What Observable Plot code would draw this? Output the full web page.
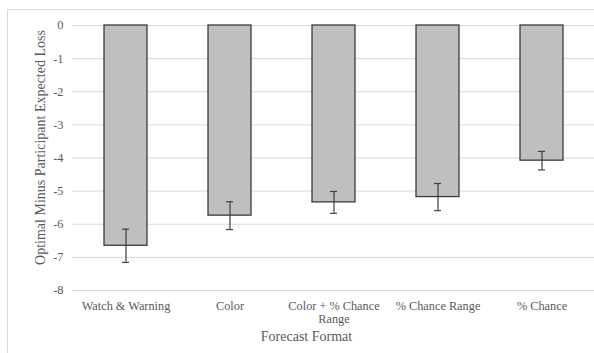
<!DOCTYPE html>
<html>
<head>
<meta charset="utf-8">
<script src="https://cdn.jsdelivr.net/npm/d3@7"></script>
<script src="https://cdn.jsdelivr.net/npm/@observablehq/plot@0.6"></script>
<style>
  html, body { margin: 0; padding: 0; background: #fff; overflow: hidden; }
  #wrap { position: relative; width: 594px; height: 353px; overflow: hidden; }
  #frame { position: absolute; left: 7px; top: 9px; width: 700px; height: 500px; border-left: 1px solid #d9d9d9; border-top: 1px solid #d9d9d9; }
  #chart { position: absolute; left: 0; top: 0; }
</style>
</head>
<body>
<div id="wrap"><div id="frame"></div><div id="chart"></div></div>
<script>
const categories = ["Watch & Warning", "Color", "Color + % Chance Range", "% Chance Range", "% Chance"];
const tickLabels = ["Watch & Warning", "Color", "Color + % Chance\nRange", "% Chance Range", "% Chance"];
const means = [-6.65, -5.74, -5.34, -5.18, -4.08];
const errors = [0.50, 0.42, 0.33, 0.41, 0.28];
const yTicks = [0, -1, -2, -3, -4, -5, -6, -7, -8];
const yTitle = "Optimal Minus Participant Expected Loss";
const xTitle = "Forecast Format";

const data = categories.map((c, i) => ({cat: c, mean: means[i], lo: means[i] - errors[i], hi: means[i] + errors[i]}));
const labelOf = new Map(categories.map((c, i) => [c, tickLabels[i]]));

const font = "'Liberation Serif', 'Times New Roman', serif";
const textColor = "#595959";

const chart = Plot.plot({
  width: 594,
  height: 353,
  marginLeft: 72,
  marginRight: 0,
  marginTop: 25,
  marginBottom: 63,
  style: {fontFamily: font, fontSize: "12.3px", color: textColor, background: "transparent"},
  x: {domain: categories, paddingInner: 0.59, paddingOuter: 0.295},
  y: {domain: [-8, 0]},
  marks: [
    Plot.gridY(yTicks, {stroke: "#d9d9d9", strokeOpacity: 1, strokeWidth: 1}),
    Plot.barY(data, {x: "cat", y1: 0, y2: "mean", fill: "#bfbfbf", stroke: "#3a3a3a", strokeWidth: 1.3}),
    Plot.ruleX(data, {x: "cat", y1: "lo", y2: "hi", stroke: "#3f3f3f", strokeWidth: 1.2}),
    Plot.tickY(data, {x: "cat", y: "lo", stroke: "#3f3f3f", strokeWidth: 1.2, inset: 18}),
    Plot.tickY(data, {x: "cat", y: "hi", stroke: "#3f3f3f", strokeWidth: 1.2, inset: 18}),
    Plot.axisY({ticks: yTicks, tickSize: 0, tickPadding: 9, label: null, tickFormat: d => String(d), fill: textColor, fontSize: 12.3}),
    Plot.axisX({tickSize: 0, tickPadding: 10, label: null, tickFormat: d => labelOf.get(d), fill: textColor, fontSize: 12.3, lineHeight: 1.08}),
    Plot.text([yTitle], {frameAnchor: "left", text: d => d, rotate: -90, textAnchor: "middle", dx: -32, dy: -10.5, fontSize: 14, fill: textColor, fontFamily: font}),
    Plot.text([xTitle], {frameAnchor: "bottom", text: d => d, textAnchor: "middle", dx: -27, dy: 50, fontSize: 14, fill: textColor, fontFamily: font})
  ]
});
document.getElementById("chart").appendChild(chart);
</script>
</body>
</html>
